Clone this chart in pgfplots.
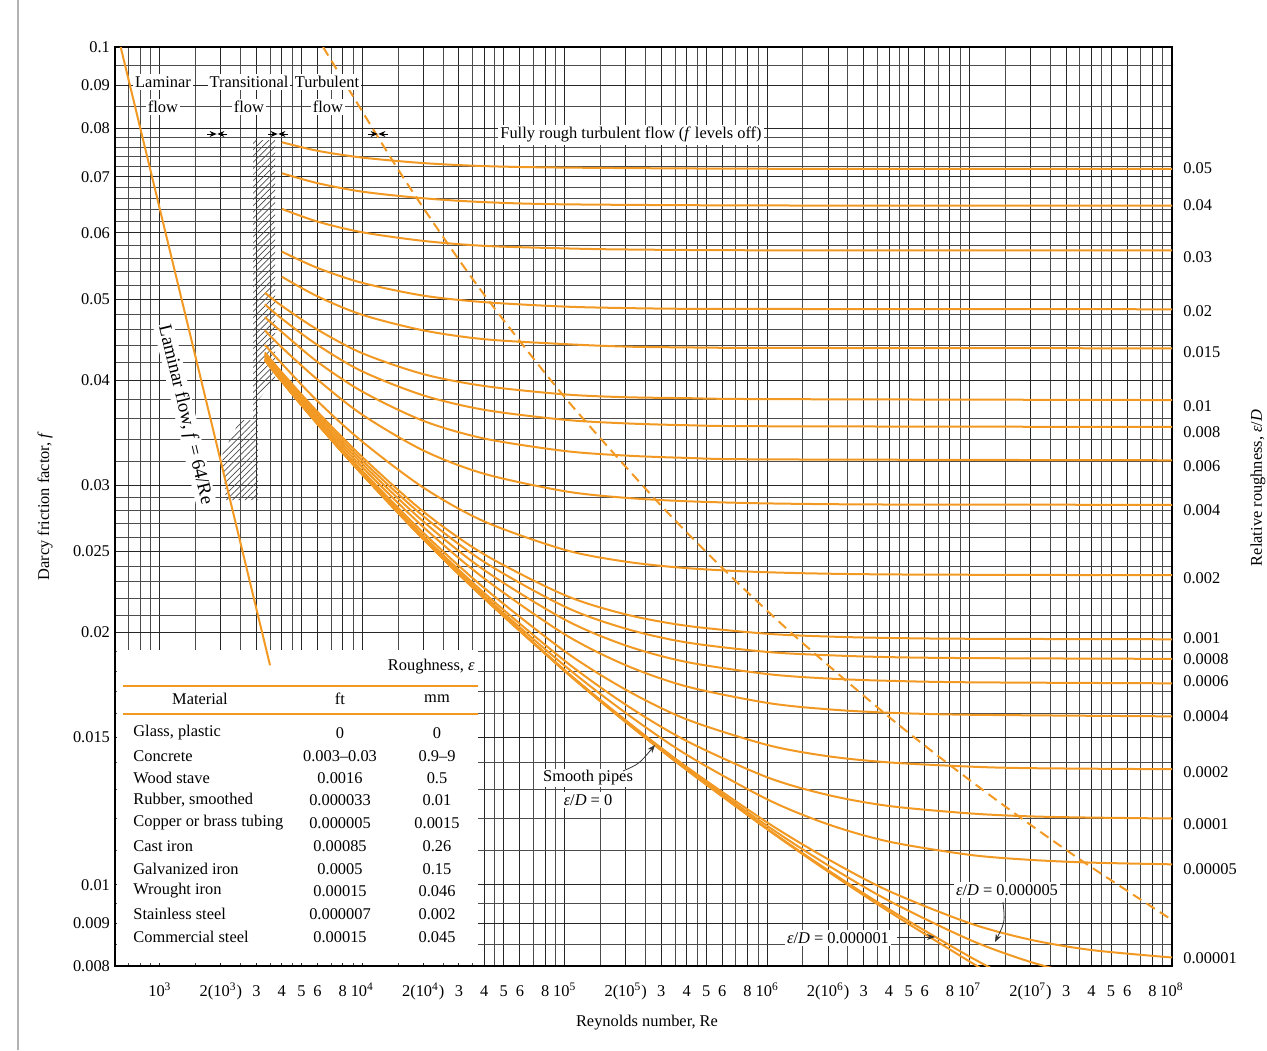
\documentclass[border=0pt]{standalone}
\usepackage{fontspec}
\setmainfont{Liberation Serif}
\usepackage{pgfplots}
\pgfplotsset{compat=1.18}
\usetikzlibrary{patterns.meta,arrows.meta}
\definecolor{cur}{RGB}{242,153,35}
\begin{document}
\begin{tikzpicture}[font=\fontsize{8.2}{10}\selectfont]
\path[use as bounding box] (-57.5pt,-42pt) rectangle (576pt,483pt);
\draw[black!30, line width=0.8pt] (-48.5pt,-42pt) -- (-48.5pt,483pt);
\begin{axis}[at={(0pt,0pt)}, anchor=south west, scale only axis,
  width=528.5pt, height=459.5pt,
  xmode=log, ymode=log, xmin=600, xmax=1e8, ymin=0.008, ymax=0.1,
  xtick={1000,2000,3000,4000,5000,6000,8000,10000,20000,30000,40000,50000,60000,80000,1e5,2e5,3e5,4e5,5e5,6e5,8e5,1e6,2e6,3e6,4e6,5e6,6e6,8e6,1e7,2e7,3e7,4e7,5e7,6e7,8e7,1e8},
  xticklabels={{10\textsuperscript{3}},{2(10\textsuperscript{3})},3,4,5,6,8,
    {10\textsuperscript{4}},{2(10\textsuperscript{4})},3,4,5,6,8,
    {10\textsuperscript{5}},{2(10\textsuperscript{5})},3,4,5,6,8,
    {10\textsuperscript{6}},{2(10\textsuperscript{6})},3,4,5,6,8,
    {10\textsuperscript{7}},{2(10\textsuperscript{7})},3,4,5,6,8,
    {10\textsuperscript{8}}},
  minor xtick={700,800,900,1500,2500,3500,4500,7000,9000,15000,25000,35000,45000,70000,90000,1.5e5,2.5e5,3.5e5,4.5e5,7e5,9e5,1.5e6,2.5e6,3.5e6,4.5e6,7e6,9e6,1.5e7,2.5e7,3.5e7,4.5e7,7e7,9e7},
  ytick={0.008,0.009,0.01,0.015,0.02,0.025,0.03,0.04,0.05,0.06,0.07,0.08,0.09,0.1},
  yticklabels={0.008,0.009,0.01,0.015,0.02,0.025,0.03,0.04,0.05,0.06,0.07,0.08,0.09,0.1},
  minor ytick={0.0085,0.0095,0.011,0.012,0.013,0.014,0.016,0.017,0.018,0.019,0.021,0.022,0.023,0.024,0.026,0.027,0.028,0.029,0.032,0.034,0.036,0.038,0.042,0.044,0.046,0.048,0.052,0.054,0.056,0.058,0.062,0.064,0.066,0.068,0.072,0.074,0.076,0.078,0.085,0.095},
  grid=both,
  major grid style={black!85, line width=0.5pt},
  minor grid style={black!70, line width=0.35pt},
  tick style={draw=none},
  axis line style={black, line width=0.6pt},
  tick label style={font=\fontsize{8.2}{10}\selectfont},
  xticklabel style={anchor=base, yshift=-15pt},
  yticklabel style={xshift=1pt},
  curve/.style={cur, line width=1pt, smooth},
]
% hatched transitional zone
\fill[pattern={Lines[angle=45,distance=2.2pt,line width=0.35pt]}, pattern color=black!70]
  (rel axis cs:0.1306,0.8988) -- (rel axis cs:0.1514,0.8988) -- (rel axis cs:0.1514,0.6376)
  -- (rel axis cs:0.1353,0.6159) -- (rel axis cs:0.1353,0.5071) -- (rel axis cs:0.1050,0.5071)
  -- (rel axis cs:0.1012,0.5560) -- (rel axis cs:0.1183,0.5941) -- (rel axis cs:0.1306,0.5941) -- cycle;
% white table background
\fill[white] (rel axis cs:0.0019,0.0033) rectangle (rel axis cs:0.3434,0.3439);
% laminar
\addplot[cur, line width=1pt] coordinates {(600,0.10667) (3500,0.018286)};
% e/D = 0.05
\addplot[curve] coordinates {(4000,0.0770)(6000,0.0752)(1e4,0.0738)(2e4,0.0727)(4e4,0.0721)(1e5,0.0718)(1e6,0.07157)(1e8,0.07155)};
% 0.04
\addplot[curve] coordinates {(4000,0.0707)(6000,0.0688)(1e4,0.0672)(2e4,0.0660)(4e4,0.0653)(1e5,0.0649)(1e6,0.0647)(1e8,0.06467)};
% 0.03
\addplot[curve] coordinates {(4000,0.0641)(6000,0.0619)(1e4,0.0601)(2e4,0.0587)(4e4,0.0579)(1e5,0.0575)(2e5,0.05733)(1e6,0.0572)(1e8,0.05717)};
% 0.02
\addplot[curve] coordinates {(4000,0.0570)(6000,0.0545)(1e4,0.0523)(2e4,0.0505)(4e4,0.0496)(1e5,0.0490)(2e5,0.0488)(4e5,0.0487)(1e6,0.04868)(1e8,0.04864)};
% 0.015
\addplot[curve] coordinates {(4000,0.0532)(6000,0.0504)(1e4,0.0479)(2e4,0.0459)(4e4,0.0448)(1e5,0.0442)(2e5,0.0439)(4e5,0.0438)(1e6,0.04374)(1e8,0.04369)};
% 0.01
\addplot[curve] coordinates {(3300,0.0509)(4000,0.0491)(6000,0.0460)(1e4,0.0431)(2e4,0.0407)(4e4,0.0394)(1e5,0.0385)(2e5,0.0382)(4e5,0.0381)(1e6,0.0380)(1e8,0.0379)};
% 0.008
\addplot[curve] coordinates {(3300,0.0493)(4000,0.0474)(6000,0.0441)(1e4,0.0410)(2e4,0.0384)(4e4,0.0369)(1e5,0.0359)(2e5,0.03555)(4e5,0.03537)(1e6,0.03527)(1e8,0.0352)};
% 0.006
\addplot[curve] coordinates {(3300,0.0476)(4000,0.0457)(6000,0.0421)(1e4,0.0388)(2e4,0.0358)(4e4,0.0341)(1e5,0.03295)(2e5,0.03254)(4e5,0.03233)(1e6,0.0322)(1e8,0.03212)};
% 0.004
\addplot[curve] coordinates {(3300,0.0459)(4000,0.0438)(6000,0.0401)(1e4,0.0364)(2e4,0.0330)(4e4,0.03095)(1e5,0.0295)(2e5,0.02897)(4e5,0.0287)(1e6,0.02853)(4e6,0.02844)(1e8,0.02842)};
% 0.002
\addplot[curve] coordinates {(3300,0.0441)(4000,0.0419)(6000,0.0378)(1e4,0.0338)(2e4,0.0298)(4e4,0.02715)(1e5,0.02511)(2e5,0.02431)(4e5,0.02388)(1e6,0.02361)(4e6,0.02347)(1e8,0.02342)};
% 0.001
\addplot[curve] coordinates {(3300,0.0432)(4000,0.0409)(6000,0.0367)(1e4,0.0324)(2e4,0.0279)(4e4,0.0248)(1e5,0.02217)(2e5,0.02103)(4e5,0.02038)(1e6,0.01994)(2e6,0.01979)(4e6,0.01971)(1e7,0.01967)(1e8,0.01964)};
% 0.0008
\addplot[curve] coordinates {(3300,0.0430)(4000,0.0407)(6000,0.03647)(1e4,0.03209)(2e4,0.02755)(4e4,0.02429)(1e5,0.02148)(2e5,0.02022)(4e5,0.01947)(1e6,0.01897)(2e6,0.0188)(4e6,0.0187)(1e7,0.01865)(1e8,0.01861)};
% 0.0006
\addplot[curve] coordinates {(3300,0.0428)(4000,0.04052)(6000,0.03621)(1e4,0.0318)(2e4,0.02715)(4e4,0.02375)(1e5,0.02073)(2e5,0.01931)(4e5,0.01845)(1e6,0.01785)(2e6,0.01763)(4e6,0.01752)(1e7,0.01745)(1e8,0.0174)};
% 0.0004
\addplot[curve] coordinates {(3300,0.04264)(4000,0.04031)(6000,0.03598)(1e4,0.0315)(2e4,0.02674)(4e4,0.02321)(1e5,0.01991)(2e5,0.01829)(4e5,0.01725)(1e6,0.01649)(2e6,0.0162)(4e6,0.01605)(1e7,0.01596)(1e8,0.01589)};
% 0.0002
\addplot[curve] coordinates {(3300,0.04245)(4000,0.0401)(6000,0.03575)(1e4,0.03119)(2e4,0.02632)(4e4,0.02261)(1e5,0.019)(2e5,0.0171)(4e5,0.01576)(1e6,0.01469)(2e6,0.01424)(4e6,0.014)(1e7,0.01384)(2e7,0.01378)(1e8,0.01374)};
% 0.0001
\addplot[curve] coordinates {(3300,0.04237)(4000,0.04001)(6000,0.03563)(1e4,0.03104)(2e4,0.0261)(4e4,0.0223)(1e5,0.01851)(2e5,0.01641)(4e5,0.01485)(1e6,0.01344)(2e6,0.0128)(4e6,0.01242)(1e7,0.01217)(2e7,0.01207)(4e7,0.01203)(1e8,0.012)};
% 0.00005
\addplot[curve] coordinates {(3300,0.04233)(4000,0.03995)(6000,0.03557)(1e4,0.03096)(2e4,0.02599)(4e4,0.02213)(1e5,0.01826)(2e5,0.01604)(4e5,0.0143)(1e6,0.01265)(2e6,0.01181)(4e6,0.01126)(1e7,0.01086)(2e7,0.01071)(4e7,0.01063)(1e8,0.01058)};
% 0.00001
\addplot[curve] coordinates {(3300,0.0423)(4000,0.0399)(6000,0.0355)(1e4,0.03089)(2e4,0.02587)(4e4,0.02201)(1e5,0.01804)(2e5,0.01572)(4e5,0.01383)(1e6,0.01187)(2e6,0.01073)(4e6,0.00983)(1e7,0.009)(2e7,0.0086)(4e7,0.00836)(1e8,0.00819)};
% 0.000005
\addplot[curve] coordinates {(3300,0.0423)(4000,0.0399)(6000,0.0355)(1e4,0.03089)(2e4,0.02587)(4e4,0.02199)(1e5,0.01802)(2e5,0.01568)(4e5,0.01377)(1e6,0.01176)(2e6,0.01055)(4e6,0.00957)(1e7,0.0086)(2e7,0.00809)(4e7,0.00774)};
% 0.000001
\addplot[curve] coordinates {(3300,0.0423)(4000,0.0399)(6000,0.0355)(1e4,0.03089)(2e4,0.02587)(4e4,0.02198)(1e5,0.018)(2e5,0.01565)(4e5,0.01373)(1e6,0.01167)(2e6,0.01041)(4e6,0.00935)(1e7,0.00821)(2e7,0.00752)};
% smooth
\addplot[curve] coordinates {(3300,0.04229)(4000,0.0399)(6000,0.03549)(1e4,0.03089)(2e4,0.02587)(4e4,0.02197)(1e5,0.01799)(2e5,0.01564)(4e5,0.01371)(1e6,0.01165)(2e6,0.01037)(4e6,0.00929)(1e7,0.0081)(2e7,0.00734)};
% fully rough boundary
\addplot[cur, line width=1pt, smooth, dash pattern=on 5pt off 3pt] coordinates {(6400,0.1)(14954,0.07155)(27882,0.05717)(45341,0.04864)(102733,0.0379)(296590,0.02842)(653427,0.02342)(1.427e6,0.01964)(3.966e6,0.01589)(8.534e6,0.01373)(1.827e7,0.01198)(3.896e7,0.01054)(1e8,0.00908)};
\end{axis}
% flow regime labels
\node[fill=white, inner sep=1pt] at (24pt,442pt) {Laminar};
\node[fill=white, inner sep=1pt] at (24pt,429.5pt) {flow};
\node[fill=white, inner sep=1pt] at (67pt,442pt) {Transitional};
\node[fill=white, inner sep=1pt] at (67pt,429.5pt) {flow};
\node[fill=white, inner sep=1pt] at (106pt,442pt) {Turbulent};
\node[fill=white, inner sep=1pt] at (106.5pt,429.5pt) {flow};
\node[fill=white, inner sep=1pt] at (258pt,415.5pt) {Fully rough turbulent flow (\textit{f} levels off)};
\foreach \xx in {51,81.5,131.5}{
  \draw[-{Stealth[length=3.5pt,width=3pt]}, black] (\xx pt-5pt,416pt) -- (\xx pt-0.2pt,416pt);
  \draw[-{Stealth[length=3.5pt,width=3pt]}, black] (\xx pt+5pt,416pt) -- (\xx pt+0.2pt,416pt);
}
\node[fill=white, inner sep=0.8pt, rotate=-76.4, font=\fontsize{9.4}{11}\selectfont] at (35pt,275.5pt) {Laminar flow, \textit{f} = 64/Re};
% annotations
\node[fill=white, inner sep=1pt] at (236.5pt,94pt) {Smooth pipes};
\node[fill=white, inner sep=1pt] at (236.5pt,83pt) {\textit{ε}/\textit{D} = 0};
\draw[-{Stealth[length=4pt,width=3pt]}, black!80, line width=0.4pt] (254pt,97.5pt) .. controls (262pt,101pt) .. (270pt,110.5pt);
\node[fill=white, inner sep=1pt] at (446pt,38pt) {\textit{ε}/\textit{D} = 0.000005};
\draw[-{Stealth[length=4pt,width=3pt]}, black!80, line width=0.4pt] (444pt,32pt) .. controls (445pt,22pt) .. (440pt,12pt);
\node[fill=white, inner sep=1pt] at (361.5pt,14pt) {\textit{ε}/\textit{D} = 0.000001};
\draw[-{Stealth[length=4pt,width=3pt]}, black!80, line width=0.4pt] (391pt,14.5pt) -- (410pt,14.5pt);
% table
\node[anchor=east, inner sep=0pt] at (180pt,149.5pt) {Roughness, \textit{ε}};
\draw[cur, line width=1pt] (4pt,140pt) -- (181.5pt,140pt);
\node[inner sep=0pt] at (42.5pt,133.5pt) {Material};
\node[inner sep=0pt] at (112.5pt,133.5pt) {ft};
\node[inner sep=0pt] at (161pt,133.5pt) {mm};
\draw[cur, line width=1pt] (4pt,126pt) -- (181.5pt,126pt);
\foreach \yy/\mat/\ft/\mm in {116.5/{Glass, plastic}/0/0, 105/Concrete/0.003--0.03/0.9--9, 94/Wood stave/0.0016/0.5, 83/{Rubber, smoothed}/0.000033/0.01, 71.5/Copper or brass tubing/0.000005/0.0015, 60/Cast iron/0.00085/0.26, 48.5/Galvanized iron/0.0005/0.15, 37.5/Wrought iron/0.00015/0.046, 26/Stainless steel/0.000007/0.002, 14.5/Commercial steel/0.00015/0.045}{
  \node[anchor=west, inner sep=0pt] at (9pt,\yy pt) {\mat};
  \node[inner sep=0pt] at (112.5pt,\yy pt) {\ft};
  \node[inner sep=0pt] at (161pt,\yy pt) {\mm};
}
% right labels
\foreach \yy/\lab in {399/0.05, 380.5/0.04, 354.5/0.03, 327.5/0.02, 307/0.015, 280/0.01, 267/0.008, 250/0.006, 228/0.004, 194/0.002, 164/0.001, 153.5/0.0008, 142.5/0.0006, 125/0.0004, 97/0.0002, 71/0.0001, 48.5/0.00005, 4/0.00001}{
  \node[anchor=west, inner sep=0pt] at (534pt,\yy pt) {\lab};
}
% axis titles
\node[rotate=90] at (-35pt,230pt) {Darcy friction factor, \textit{f}};
\node[rotate=90] at (571.5pt,239pt) {Relative roughness, \textit{ε}/\textit{D}};
\node at (266pt,-28.5pt) {Reynolds number, Re};
\end{tikzpicture}
\end{document}
